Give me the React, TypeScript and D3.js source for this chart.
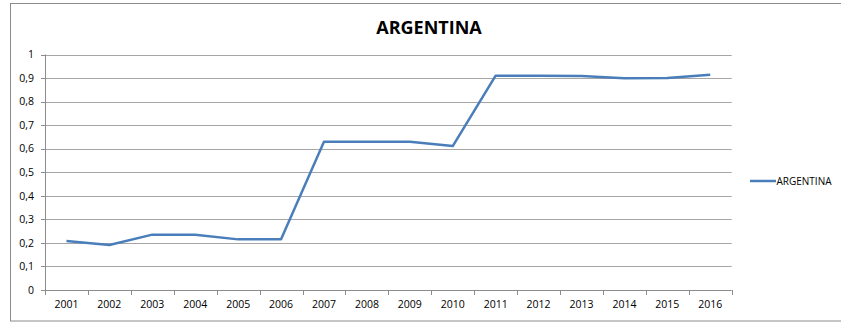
import React from "react";
import * as d3 from "d3";

const years = ["2001","2002","2003","2004","2005","2006","2007","2008","2009","2010","2011","2012","2013","2014","2015","2016"];
const values = [0.208,0.191,0.235,0.235,0.215,0.215,0.630,0.630,0.630,0.611,0.910,0.910,0.909,0.899,0.900,0.914];
const yTicks = [0,0.1,0.2,0.3,0.4,0.5,0.6,0.7,0.8,0.9,1];
const seriesName = "ARGENTINA";

const W = 841, H = 322;
const left = 45, right = 731.7, top = 54.5, bottom = 290;
const font = "Open Sans, Carlito, sans-serif";
const blue = "#4A7EBB";

export default function App() {
  const x = d3.scaleBand<string>().domain(years).range([left, right]);
  const y = d3.scaleLinear().domain([0, 1]).range([bottom, top]);
  const line = d3.line<number>()
    .x((_, i) => (x(years[i]) as number) + x.bandwidth() / 2)
    .y((d) => y(d));
  const fmt = (v: number) => (v === 0 || v === 1 ? String(v) : v.toFixed(1).replace(".", ","));
  const tickXs = years.map((yr) => x(yr) as number).concat([right]);
  return (
    <svg width={W} height={H} style={{ position: "absolute", left: 0, top: 0 }}>
      <rect x={10.5} y={3.5} width={W} height={317.5} fill="#fff" stroke="#8c8c8c" strokeWidth={1} />
      <text x={429} y={34} textAnchor="middle" fontFamily={font} fontWeight="bold" fontSize={18} fill="#000">{seriesName}</text>
      {yTicks.map((t) => (
        <g key={t}>
          <line x1={left} x2={right} y1={Math.round(y(t)) + 0.5} y2={Math.round(y(t)) + 0.5} stroke={t === 0 ? "#8c8c8c" : "#a6a6a6"} strokeWidth={1} />
          <line x1={left - 4} x2={left} y1={Math.round(y(t)) + 0.5} y2={Math.round(y(t)) + 0.5} stroke="#8c8c8c" />
          <text x={34} y={y(t) + 3.7} textAnchor="end" fontFamily={font} fontSize={10.5} fill="#000">{fmt(t)}</text>
        </g>
      ))}
      <line x1={left + 0.5} x2={left + 0.5} y1={top} y2={bottom} stroke="#8c8c8c" />
      {tickXs.map((tx, i) => (
        <line key={i} x1={Math.round(tx) + 0.5} x2={Math.round(tx) + 0.5} y1={bottom} y2={bottom + 5} stroke="#8c8c8c" />
      ))}
      {years.map((yr) => (
        <text key={yr} x={(x(yr) as number) + x.bandwidth() / 2} y={bottom + 18} textAnchor="middle" fontFamily={font} fontSize={10.5} fill="#000">{yr}</text>
      ))}
      <path d={line(values) || ""} fill="none" stroke={blue} strokeWidth={2.5} strokeLinejoin="round" />
      <line x1={750} x2={776} y1={181} y2={181} stroke={blue} strokeWidth={2.5} />
      <text x={776.5} y={184.5} fontFamily={font} fontSize={10} fill="#000">{seriesName}</text>
    </svg>
  );
}
